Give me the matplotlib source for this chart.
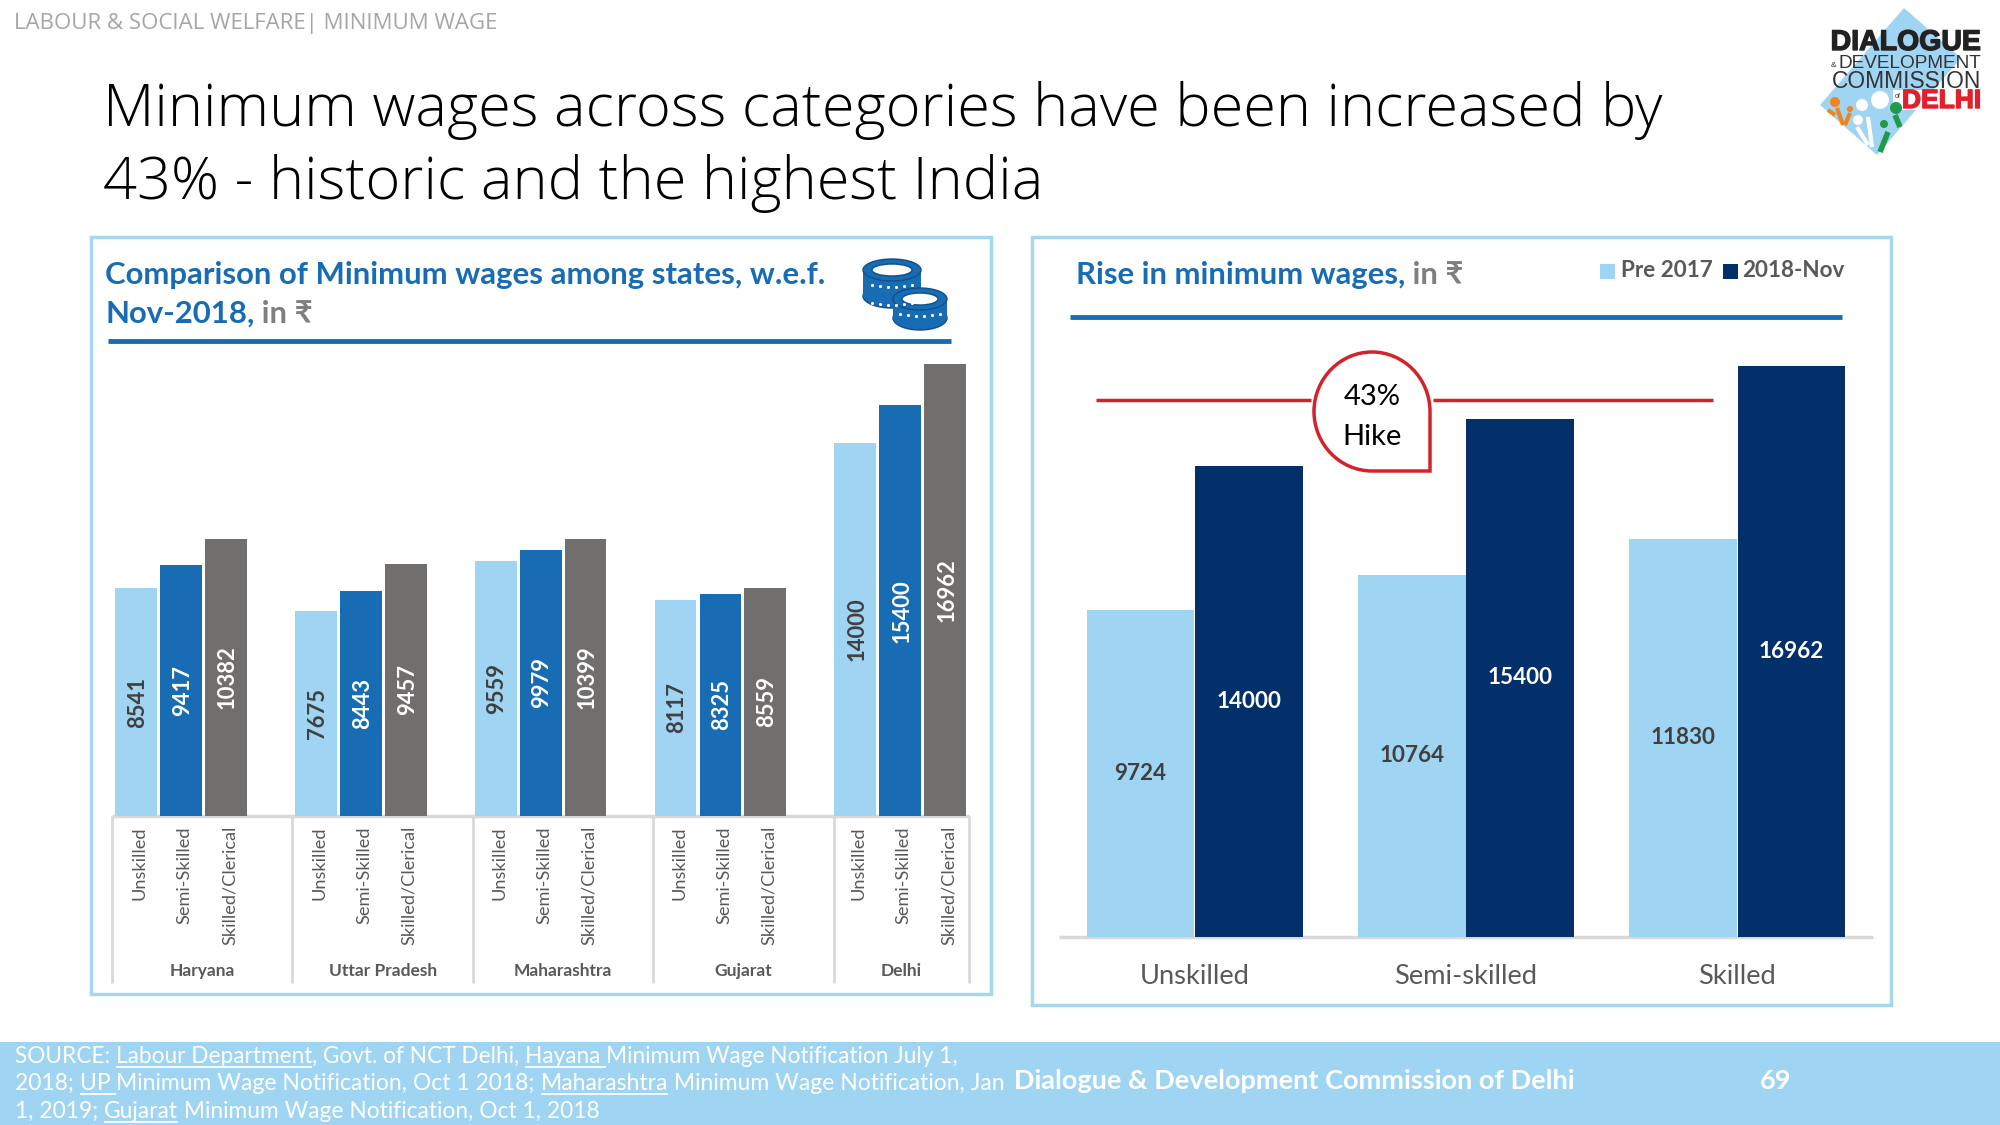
import matplotlib
matplotlib.use('Agg')
import matplotlib.pyplot as plt
import matplotlib.patheffects as pe
from matplotlib.patches import Rectangle, Polygon, Ellipse, Circle, PathPatch
from matplotlib.path import Path

plt.rcParams['font.family'] = ['Lato', 'DejaVu Sans']
plt.rcParams['lines.solid_capstyle'] = 'butt'

# left chart, by state
states = ['Haryana', 'Uttar Pradesh', 'Maharashtra', 'Gujarat', 'Delhi']
levels = ['Unskilled', 'Semi-Skilled', 'Skilled/Clerical']
unskilled = [8541, 7675, 9559, 8117, 14000]
semi_skilled = [9417, 8443, 9979, 8325, 15400]
skilled = [10382, 9457, 10399, 8559, 16962]

# right chart
rise_cats = ['Unskilled', 'Semi-skilled', 'Skilled']
pre_2017 = [9724, 10764, 11830]
nov_2018 = [14000, 15400, 16962]

LIGHT = '#9FD5F3'
BLUE = '#176CB3'
NAVY = '#03306A'
GREY = '#716E6E'
FRAME = '#A5D8EC'
RED = '#D2232A'
TXT = '#595959'

fig = plt.figure(figsize=(20, 11.25), dpi=100)
bg = fig.add_axes([0, 0, 1, 1])
bg.set_xlim(0, 2000)
bg.set_ylim(1125, 0)
bg.axis('off')


def px_axes(x0, y0, x1, y1):
    return fig.add_axes([x0 / 2000, 1 - y1 / 1125, (x1 - x0) / 2000, (y1 - y0) / 1125])


def runs(x, y, parts, size, **kw):
    # text pieces one after the other, optional underline
    r = fig.canvas.get_renderer()
    for s, col, ul in parts:
        t = bg.text(x, y, s, color=col, fontsize=size, va='baseline', **kw)
        w = t.get_window_extent(r).width
        if ul:
            bg.plot([x, x + w], [y + 3.5, y + 3.5], color=col, lw=1.3)
        x += w


# header
bg.text(14, 29, 'LABOUR & SOCIAL WELFARE| MINIMUM WAGE', color='#A6A6A6', fontsize=16,
        family=['Open Sans', 'DejaVu Sans'])
bg.text(103, 126, 'Minimum wages across categories have been increased by', color='black',
        fontsize=42.8, family=['Open Sans', 'DejaVu Sans'], fontweight='light')
bg.text(103, 199, '43% - historic and the highest India', color='black',
        fontsize=42.8, family=['Open Sans', 'DejaVu Sans'], fontweight='light')

# logo
bg.add_patch(Polygon([(1904, 8), (1961, 58), (1877, 155), (1820, 105)], color=LIGHT, lw=0))
bg.add_patch(Rectangle((1893, 90), 89, 20, color='white', lw=0))
heavy = [pe.withStroke(linewidth=1, foreground='#222222')]
bg.text(1981, 50, 'DIALOGUE', color='#222222', fontsize=20.5, fontweight='bold', ha='right',
        family=['Liberation Sans'], path_effects=heavy)
bg.text(1981, 68, 'DEVELOPMENT', color='#333333', fontsize=13.7, ha='right', family=['Liberation Sans'])
bg.text(1831, 67, '&', color='#333333', fontsize=6, family=['Liberation Sans'])
bg.text(1981, 88, 'COMMISSION', color='#333333', fontsize=16.4, ha='right', family=['Liberation Sans'])
bg.text(1895, 98, 'of', color='#333333', fontsize=5, family=['Liberation Sans'])
bg.text(1981, 108, 'DELHI', color='#E2202C', fontsize=19, fontweight='bold', ha='right',
        family=['Liberation Sans'], path_effects=[pe.withStroke(linewidth=1, foreground='#E2202C')])
for cx, cy, r, col in [(1835, 102, 5, '#F0851E'), (1850, 109, 3, '#F0851E'), (1862, 105, 6, 'white'),
                       (1880, 100, 9, 'white'), (1858, 120, 5, 'white'), (1896, 108, 6, '#1E9A49'),
                       (1884, 124, 4, '#1E9A49')]:
    bg.add_patch(Circle((cx, cy), r, color=col, lw=0))
bg.plot([1828, 1835], [110, 115], color='#F0851E', lw=3)
bg.plot([1837, 1843], [108, 125], color='#F0851E', lw=3)
bg.plot([1850, 1845], [113, 125], color='#F0851E', lw=3)
bg.plot([1868, 1872], [117, 147], color='white', lw=3)
bg.plot([1857, 1868], [127, 145], color='white', lw=3)
bg.plot([1895, 1900], [115, 127], color='#1E9A49', lw=4)
bg.plot([1888, 1880], [132, 152], color='#1E9A49', lw=4)

# panels
bg.add_patch(Rectangle((91, 237), 900, 757, fill=False, ec=FRAME, lw=2.5))
bg.add_patch(Rectangle((1032, 237), 859, 768, fill=False, ec=FRAME, lw=2.5))

# left panel heading
runs(105, 284, [('Comparison of Minimum wages among states, w.e.f.', BLUE, False)], 22.4, fontweight='bold')
runs(105, 323, [('Nov-2018,', BLUE, False), (' in ₹', '#7F7F7F', False)], 22.4, fontweight='bold')
bg.plot([108, 951], [341, 341], color=BLUE, lw=3.5)

# coins
for cx, y0, y1, w in [(892, 270, 296, 58), (920, 299, 318, 54)]:
    bg.add_patch(Ellipse((cx, y1), w, 24, fc=BLUE, ec='#0F4F8A', lw=1))
    bg.add_patch(Rectangle((cx - w / 2, y0), w, y1 - y0, fc=BLUE, lw=0))
    bg.add_patch(Ellipse((cx, y0), w, 22, fc=BLUE, ec='#0F4F8A', lw=1))
    bg.add_patch(Ellipse((cx, y0), w - 18, 12, fc='white', ec='#0F4F8A', lw=1))
    for dy in (14, 32):
        if y0 + dy < y1 + 8:
            bg.scatter([cx + d for d in (-20, -12, -4, 4, 12, 20)],
                       [y0 + dy + 4 - abs(d) / 7 for d in (-20, -12, -4, 4, 12, 20)],
                       s=5, color='white', lw=0, zorder=3)

# left chart
ax = px_axes(115, 360, 969, 816)
ax.set_xlim(0, 19)
ax.set_ylim(0, 456 / 0.02667)
ax.axis('off')
for g in range(5):
    start = g * 4
    for i, (vals, col) in enumerate([(unskilled, LIGHT), (semi_skilled, BLUE), (skilled, GREY)]):
        xc = start + i + 0.47
        ax.bar(xc, vals[g], width=0.93, color=col)
        ax.text(xc + 0.03, vals[g] / 2, str(vals[g]), rotation=90, ha='center', va='center', fontsize=15.8,
                fontweight='bold', color='white' if col != LIGHT else '#404040')
        bg.text(115 + (xc + 0.08) * 854 / 19, 826, levels[i], rotation=90, ha='center', va='top',
                fontsize=13.1, color=TXT)
    right = 19 if g == 4 else start + 4
    bg.text(112 + (start + right) / 2 * 857 / 19, 971, states[g], ha='center', va='center',
            fontsize=12.5, fontweight='bold', color=TXT)
    sx = 112 + start * 857 / 19
    bg.plot([sx, sx], [816, 983], color='#D9D9D9', lw=2)
bg.plot([969, 969], [816, 983], color='#D9D9D9', lw=2)
bg.plot([112, 969], [816, 816], color='#D9D9D9', lw=2.5)

# right panel heading and legend
runs(1076, 284, [('Rise in minimum wages,', BLUE, False), (' in ₹', '#7F7F7F', False)], 22.3, fontweight='bold')
bg.plot([1070, 1842], [317, 317], color=BLUE, lw=3.5)
bg.add_patch(Rectangle((1600, 264), 15, 15, color=LIGHT, lw=0))
bg.text(1621, 277, 'Pre 2017', fontsize=16.2, fontweight='bold', color=TXT)
bg.add_patch(Rectangle((1723, 264), 15, 15, color=NAVY, lw=0))
bg.text(1742, 277, '2018-Nov', fontsize=16.2, fontweight='bold', color=TXT)

# right chart
ax2 = px_axes(1059, 360, 1873, 937)
ax2.set_xlim(-0.5, 2.5)
ax2.set_ylim(0, 577 / 0.03366)
ax2.axis('off')
for i in range(3):
    ax2.bar(i - 0.2, pre_2017[i], width=0.397, color=LIGHT)
    ax2.bar(i + 0.2, nov_2018[i], width=0.397, color=NAVY)
    ax2.text(i - 0.2, pre_2017[i] / 2, str(pre_2017[i]), ha='center', va='center', fontsize=16.2,
             fontweight='bold', color='#404040')
    ax2.text(i + 0.2, nov_2018[i] / 2, str(nov_2018[i]), ha='center', va='center', fontsize=16.2,
             fontweight='bold', color='white')
    bg.text(1059 + (i + 0.5) * 814 / 3, 976, rise_cats[i], ha='center', va='center', fontsize=19.6, color=TXT)
bg.plot([1059, 1873], [937, 937], color='#D9D9D9', lw=2.5)

# 43% hike marker
bg.plot([1096, 1311], [400, 400], color=RED, lw=2.5, zorder=5)
bg.plot([1433, 1713], [400, 400], color=RED, lw=2.5, zorder=5)
l, r, t, b = 1314, 1430, 352, 471
cx, cy = (l + r) / 2, (t + b) / 2
k = 0.55
drop = Path([(cx, t), (cx + k * (r - cx), t), (r, cy - k * (cy - t)), (r, cy), (r, b), (cx, b),
             (cx - k * (cx - l), b), (l, cy + k * (b - cy)), (l, cy),
             (l, cy - k * (cy - t)), (cx - k * (cx - l), t), (cx, t)],
            [Path.MOVETO, Path.CURVE4, Path.CURVE4, Path.CURVE4, Path.LINETO, Path.LINETO,
             Path.CURVE4, Path.CURVE4, Path.CURVE4, Path.CURVE4, Path.CURVE4, Path.CURVE4])
bg.add_patch(PathPatch(drop, fc='white', ec=RED, lw=2.5, zorder=6))
bg.text(cx, 397, '43%', ha='center', va='center', fontsize=21, zorder=7)
bg.text(cx, 437, 'Hike', ha='center', va='center', fontsize=21, zorder=7)

# footer
bg.add_patch(Rectangle((0, 1042), 2000, 83, color=LIGHT, lw=0))
runs(15, 1063, [('SOURCE: ', 'white', False), ('Labour Department', 'white', True),
                (', Govt. of NCT Delhi, ', 'white', False), ('Hayana ', 'white', True),
                ('Minimum Wage Notification July 1,', 'white', False)], 16.3)
runs(15, 1090, [('2018; ', 'white', False), ('UP ', 'white', True),
                ('Minimum Wage Notification, Oct 1 2018; ', 'white', False), ('Maharashtra', 'white', True),
                (' Minimum Wage Notification, Jan', 'white', False)], 16.5)
runs(15, 1118, [('1, 2019; ', 'white', False), ('Gujarat', 'white', True),
                (' Minimum Wage Notification, Oct 1, 2018', 'white', False)], 16.4)
bg.text(1014, 1089, 'Dialogue & Development Commission of Delhi', color='white', fontsize=19.5, fontweight='bold')
bg.text(1776, 1081, '69', color='white', fontsize=19.5, fontweight='bold', ha='center', va='center')

fig.savefig('out.png', dpi=100)
